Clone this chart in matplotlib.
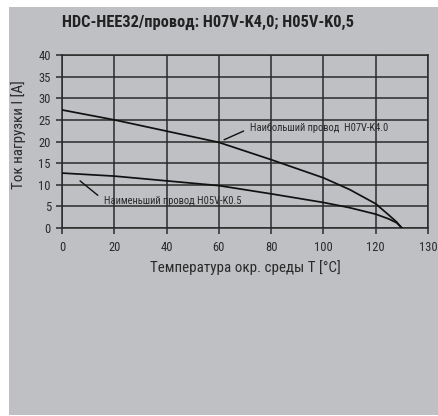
import matplotlib.pyplot as plt
from matplotlib.patches import Rectangle

# Temperature points (°C) and load current (A)
tempBig = [0, 20, 40, 60, 80, 100, 110, 120, 125, 128, 130]
currBig = [27.3, 25.0, 22.4, 19.8, 15.8, 11.6, 8.9, 5.6, 3.0, 1.4, 0.0]
tempSmall = [0, 20, 40, 60, 80, 100, 110, 120, 125, 128, 130]
currSmall = [12.7, 12.0, 10.9, 9.8, 7.9, 5.9, 4.7, 3.2, 2.1, 1.2, 0.0]
xTicks = [0, 20, 40, 60, 80, 100, 120, 140]
xTickLabels = ['0', '20', '40', '60', '80', '100', '120', '130']
yTicks = [0, 5, 10, 15, 20, 25, 30, 35, 40]

bg = '#bfc0c4'
plt.rcParams['font.family'] = ['Roboto Condensed', 'DejaVu Sans']

fig = plt.figure(figsize=(4.39, 4.16), dpi=100)
fig.patch.set_facecolor('white')
fig.patches.append(Rectangle((9 / 439, 1 / 416), 430 / 439, 408 / 416,
                             transform=fig.transFigure, facecolor=bg,
                             edgecolor='none', zorder=-10))

ax = fig.add_axes([62 / 439, 1 - 228 / 416, 366 / 439, 173 / 416])
ax.set_facecolor(bg)
ax.plot(tempBig, currBig, color='#111111', lw=1.25, zorder=3)
ax.plot(tempSmall, currSmall, color='#111111', lw=1.25, zorder=3)

ax.set_xlim(0, 140)
ax.set_ylim(0, 40)
ax.set_xticks(xTicks)
ax.set_xticklabels(xTickLabels)
ax.set_yticks(yTicks)
ax.grid(True, color='#2a2a2a', lw=1.1)
ax.set_axisbelow(True)
for s in ax.spines.values():
    s.set_color('#2a2a2a')
    s.set_linewidth(1.1)
ax.tick_params(length=4, width=1.1, color='#2a2a2a', labelsize=9,
               labelcolor='#2a2a2a')
ax.tick_params(axis='y', pad=4)
ax.tick_params(axis='x', pad=5)

ax.set_xlabel('Температура окр. среды T [°C]', fontsize=10.8, color='#2a2a2a',
              labelpad=5)
ax.set_ylabel('Ток нагрузки I [A]', fontsize=10.8, color='#2a2a2a')
ax.yaxis.set_label_coords(-0.097, 0.54)

ax.annotate('Наибольший провод  H07V-K4.0', xy=(62, 20.4), xytext=(72, 23.1),
            fontsize=7.6, color='#2a2a2a', va='center', ha='left',
            arrowprops=dict(arrowstyle='-', color='#111111', lw=1.0,
                            relpos=(0, 0.5), shrinkA=3, shrinkB=0))
ax.annotate('Наименьший провод H05V-K0.5', xy=(6.9, 10.9), xytext=(16, 6.2),
            fontsize=7.6, color='#2a2a2a', va='center', ha='left',
            arrowprops=dict(arrowstyle='-', color='#111111', lw=1.0,
                            relpos=(0, 0.6), shrinkA=3, shrinkB=0))

fig.text(62 / 439, 1 - 22 / 416, 'HDC-HEE32/провод: H07V-K4,0; H05V-K0,5',
         fontsize=11.8, fontweight='bold', color='#222222', va='center',
         ha='left')

fig.savefig('out.png', dpi=100, facecolor=fig.get_facecolor())
